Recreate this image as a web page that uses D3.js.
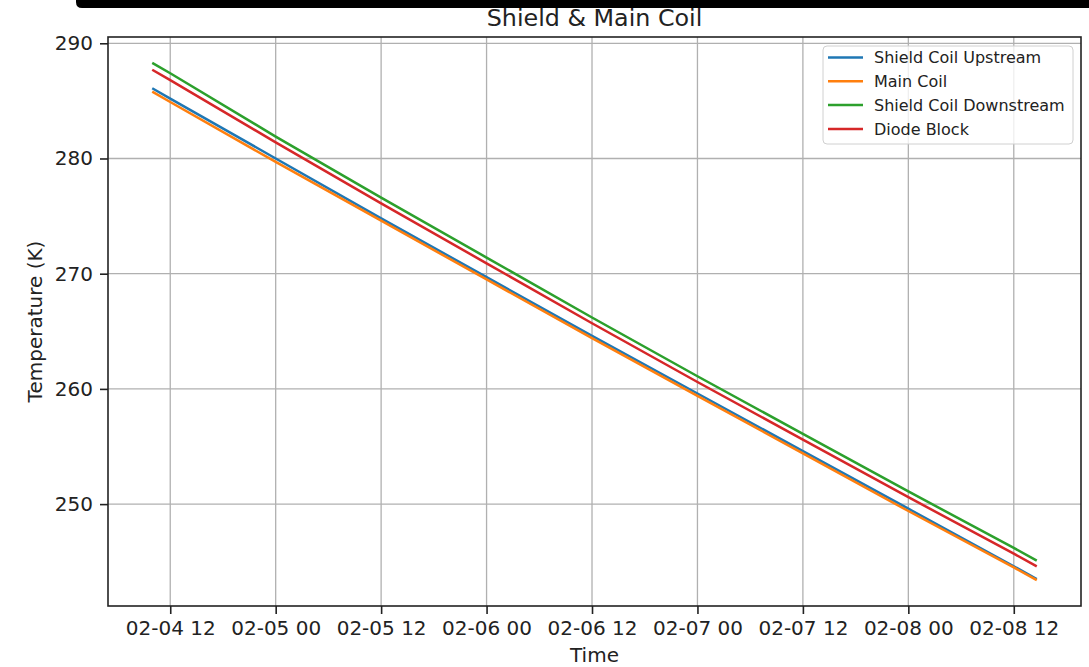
<!DOCTYPE html>
<html>
<head>
<meta charset="utf-8">
<script src="https://cdn.jsdelivr.net/npm/d3@7"></script>
<style>
  body { margin: 0; background: #fff; }
  svg { display: block; font-family: "DejaVu Sans", sans-serif; }
</style>
</head>
<body>
<div id="chart"></div>
<script>
var width = 1089;
var height = 667;
var margin = { top: 37, right: 8, bottom: 61, left: 108 };

// readings
var times = ['2024-02-04 09:57', '2024-02-04 12:00', '2024-02-05 00:00', '2024-02-05 12:00',
  '2024-02-06 00:00', '2024-02-06 12:00', '2024-02-07 00:00', '2024-02-07 12:00',
  '2024-02-08 00:00', '2024-02-08 12:00', '2024-02-08 14:37'];
var shieldUp = [286.1, 285.2, 280.0, 274.8, 269.7, 264.6, 259.6, 254.6, 249.6, 244.6, 243.5];
var mainCoil = [285.8, 284.9, 279.7, 274.6, 269.5, 264.4, 259.4, 254.4, 249.4, 244.5, 243.4];
var shieldDown = [288.3, 287.4, 281.9, 276.6, 271.4, 266.2, 261.1, 256.1, 251.1, 246.2, 245.1];
var diodeBlock = [287.7, 286.8, 281.4, 276.1, 270.9, 265.7, 260.6, 255.6, 250.6, 245.7, 244.6];

var seriesNames = ['Shield Coil Upstream', 'Main Coil', 'Shield Coil Downstream', 'Diode Block'];
var seriesValues = [shieldUp, mainCoil, shieldDown, diodeBlock];
var colors = ['#1f77b4', '#ff7f0e', '#2ca02c', '#d62728'];
var yTicks = [250, 260, 270, 280, 290];
var xTicks = ['2024-02-04 12:00', '2024-02-05 00:00', '2024-02-05 12:00', '2024-02-06 00:00',
  '2024-02-06 12:00', '2024-02-07 00:00', '2024-02-07 12:00', '2024-02-08 00:00', '2024-02-08 12:00'];

var parse = d3.timeParse('%Y-%m-%d %H:%M');
var dates = times.map(parse);

var svg = d3.select('#chart')
  .append('svg')
  .attr('width', width)
  .attr('height', height);

// dark strip along the top edge of the screenshot
svg.append('path')
  .attr('d', 'M76,0 H1089 V8 H82 Q76,8 76,2 Z')
  .attr('fill', '#000');

var innerW = width - margin.left - margin.right;
var innerH = height - margin.top - margin.bottom;

// matplotlib style 5% margins around the data
var tExt = d3.extent(dates);
var tPad = (tExt[1] - tExt[0]) * 0.05;
var x = d3.scaleTime()
  .domain([new Date(+tExt[0] - tPad), new Date(+tExt[1] + tPad)])
  .range([margin.left, margin.left + innerW]);

var all = d3.merge(seriesValues);
var yMin = d3.min(all), yMax = d3.max(all);
var yPad = (yMax - yMin) * 0.05;
var y = d3.scaleLinear()
  .domain([yMin - yPad, yMax + yPad])
  .range([margin.top + innerH, margin.top]);

// grid
svg.append('g')
  .selectAll('line.vx')
  .data(xTicks.map(parse))
  .enter().append('line')
  .attr('x1', function(d) { return x(d); })
  .attr('x2', function(d) { return x(d); })
  .attr('y1', margin.top)
  .attr('y2', margin.top + innerH)
  .attr('stroke', '#b0b0b0')
  .attr('stroke-width', 1.3);

svg.append('g')
  .selectAll('line.hy')
  .data(yTicks)
  .enter().append('line')
  .attr('x1', margin.left)
  .attr('x2', margin.left + innerW)
  .attr('y1', function(d) { return y(d); })
  .attr('y2', function(d) { return y(d); })
  .attr('stroke', '#b0b0b0')
  .attr('stroke-width', 1.3);

// lines
var line = d3.line()
  .x(function(d, i) { return x(dates[i]); })
  .y(function(d) { return y(d); });

svg.append('g')
  .selectAll('path')
  .data(seriesValues)
  .enter().append('path')
  .attr('d', line)
  .attr('fill', 'none')
  .attr('stroke', function(d, i) { return colors[i]; })
  .attr('stroke-width', 2.5);

// axes
var xAxis = d3.axisBottom(x)
  .tickValues(xTicks.map(parse))
  .tickFormat(d3.timeFormat('%m-%d %H'))
  .tickSize(8)
  .tickPadding(7);

var yAxis = d3.axisLeft(y)
  .tickValues(yTicks)
  .tickFormat(d3.format('d'))
  .tickSize(8)
  .tickPadding(7);

var gx = svg.append('g')
  .attr('transform', 'translate(0,' + (margin.top + innerH) + ')')
  .call(xAxis);
var gy = svg.append('g')
  .attr('transform', 'translate(' + margin.left + ',0)')
  .call(yAxis);

[gx, gy].forEach(function(g) {
  g.select('.domain').remove();
  g.selectAll('line').attr('stroke', '#222').attr('stroke-width', 1.6);
  g.selectAll('text')
    .attr('fill', '#222')
    .style('font-family', '"DejaVu Sans", sans-serif')
    .style('font-size', '20px');
});

// frame
svg.append('rect')
  .attr('x', margin.left)
  .attr('y', margin.top)
  .attr('width', innerW)
  .attr('height', innerH)
  .attr('fill', 'none')
  .attr('stroke', '#222')
  .attr('stroke-width', 1.6);

// titles
svg.append('text')
  .attr('x', margin.left + innerW / 2)
  .attr('y', 26)
  .attr('text-anchor', 'middle')
  .attr('fill', '#222')
  .style('font-size', '23.8px')
  .text('Shield & Main Coil');

svg.append('text')
  .attr('x', margin.left + innerW / 2)
  .attr('y', 662)
  .attr('text-anchor', 'middle')
  .attr('fill', '#222')
  .style('font-size', '20px')
  .text('Time');

svg.append('text')
  .attr('transform', 'translate(42,' + (margin.top + innerH / 2) + ') rotate(-90)')
  .attr('text-anchor', 'middle')
  .attr('fill', '#222')
  .style('font-size', '20px')
  .text('Temperature (K)');

// legend
var legend = svg.append('g');
legend.append('rect')
  .attr('x', 823)
  .attr('y', 46)
  .attr('width', 250)
  .attr('height', 98)
  .attr('rx', 4)
  .attr('fill', '#fff')
  .attr('fill-opacity', 0.8)
  .attr('stroke', '#d0d0d0')
  .attr('stroke-width', 1);

var items = legend.selectAll('g.item')
  .data(seriesNames)
  .enter().append('g')
  .attr('transform', function(d, i) { return 'translate(0,' + (57.5 + i * 23.8) + ')'; });

items.append('line')
  .attr('x1', 828)
  .attr('x2', 863)
  .attr('stroke', function(d, i) { return colors[i]; })
  .attr('stroke-width', 2.5);

items.append('text')
  .attr('x', 874)
  .attr('dy', '0.36em')
  .attr('fill', '#222')
  .style('font-size', '16px')
  .text(function(d) { return d; });
</script>
</body>
</html>
